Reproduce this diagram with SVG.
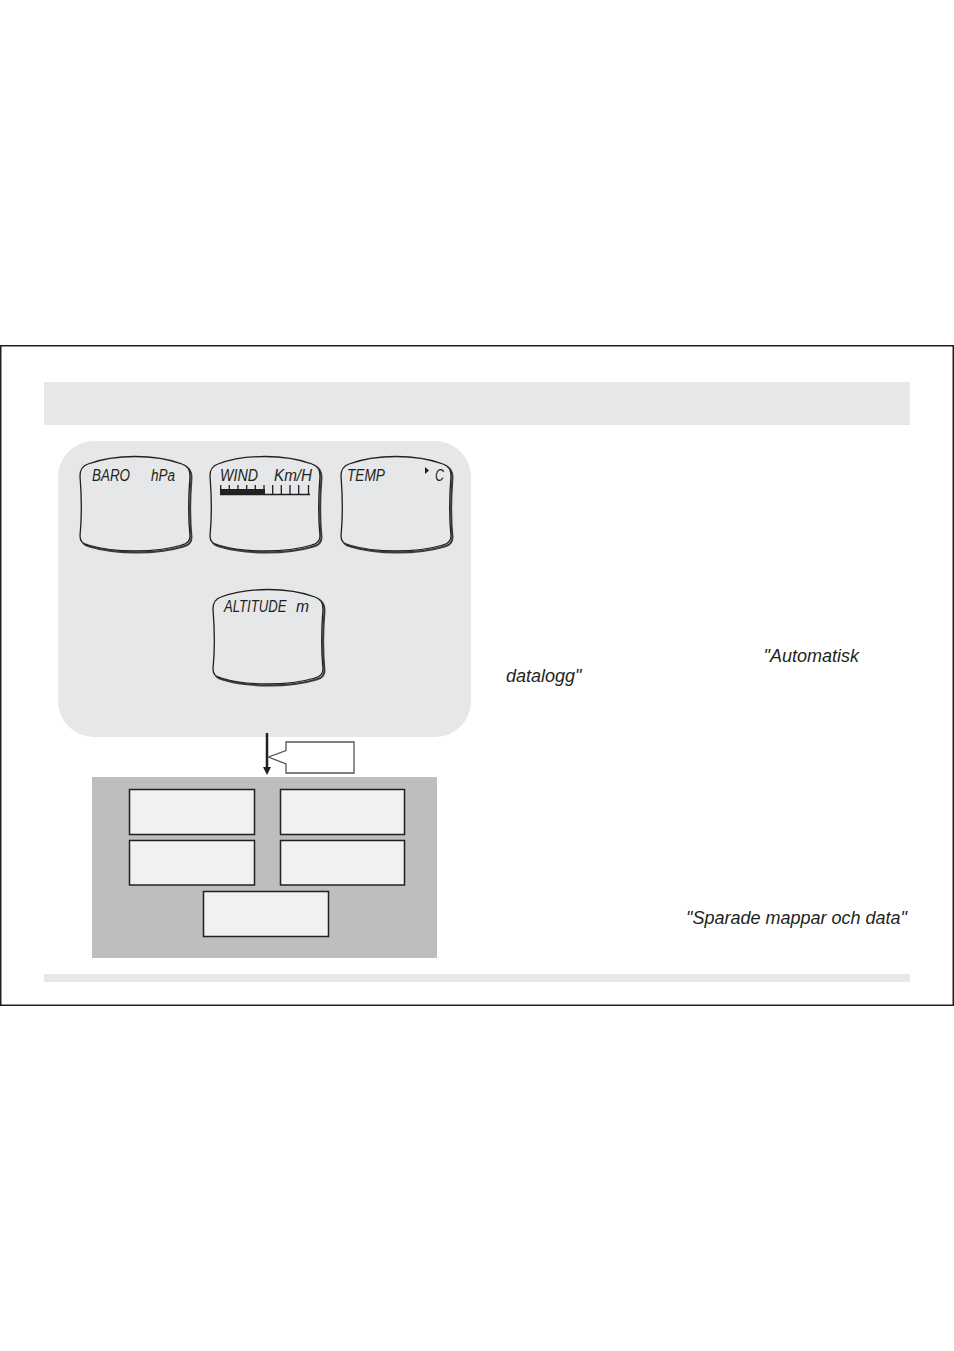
<svg xmlns="http://www.w3.org/2000/svg" width="954" height="1351" viewBox="0 0 954 1351">
<defs>
<style>
.lcd{fill:#e6e7e8;stroke:#231f20;stroke-width:1.3}
.lcdsh{fill:none;stroke:#3a3a3a;stroke-width:2}
.lt{font-family:"Liberation Sans",Arial,sans-serif;font-style:italic;font-size:16px;fill:#231f20}
.box{fill:#f1f1f1;stroke:#231f20;stroke-width:1.5}
.it{font-family:"Liberation Sans",Arial,sans-serif;font-style:italic;font-size:18px;fill:#231f20}
</style>
<path id="disp" d="M 8,8 C 35,-2 75,-2 102,8 C 108,10 110,14 110,20 C 108,45 108,60 110,80 C 110,86 106,88 102,89 C 75,97 35,97 8,89 C 3,88 0,86 0,80 C 2,60 2,45 0,20 C 0,14 2,10 8,8 Z"/>
<marker id="ah" markerWidth="8" markerHeight="8" refX="1" refY="4" orient="auto" markerUnits="userSpaceOnUse" viewBox="0 0 8 8">
<path d="M0,0 L8,4 L0,8 Z" fill="#231f20"/>
</marker>
</defs>
<rect x="0.75" y="345.75" width="952.5" height="659.5" fill="#fff" stroke="#231f20" stroke-width="1.5"/>
<rect x="44" y="382" width="866" height="43" fill="#e6e7e8"/>
<rect x="44" y="974" width="866" height="8" fill="#e6e7e8"/>
<g id="panel">
<rect x="58" y="441" width="413" height="296" rx="36" fill="#e6e7e8"/>
</g>
<g id="baro" transform="translate(80,456)">
<use href="#disp" class="lcdsh" transform="translate(1.5,1.5)"/>
<use href="#disp" class="lcd"/>
<text class="lt" x="12" y="25" textLength="38" lengthAdjust="spacingAndGlyphs">BARO</text>
<text class="lt" x="71" y="25" textLength="24" lengthAdjust="spacingAndGlyphs">hPa</text>
</g>
<g id="wind" transform="translate(210,456)">
<use href="#disp" class="lcdsh" transform="translate(1.5,1.5)"/>
<use href="#disp" class="lcd"/>
<text class="lt" x="10" y="25" textLength="38" lengthAdjust="spacingAndGlyphs">WIND</text>
<text class="lt" x="64" y="25" textLength="38" lengthAdjust="spacingAndGlyphs">Km/H</text>
<rect x="10" y="33" width="45" height="5" fill="#231f20"/>
<path d="M10,38.5 H100 M10.7,29 V38 M19.3,29 V38 M28,29 V38 M36.7,29 V38 M45.3,29 V38 M54,29 V38 M62.7,29 V38 M71.3,29 V38 M80,29 V38 M88.7,29 V38 M98.5,29 V38" stroke="#231f20" stroke-width="1.3" fill="none"/>
</g>
<g id="temp" transform="translate(341,456)">
<use href="#disp" class="lcdsh" transform="translate(1.5,1.5)"/>
<use href="#disp" class="lcd"/>
<text class="lt" x="6" y="25" textLength="38" lengthAdjust="spacingAndGlyphs">TEMP</text>
<path d="M84,11 L88,14.5 L84,18 Z" fill="#231f20"/>
<text class="lt" x="94" y="25" textLength="9" lengthAdjust="spacingAndGlyphs">C</text>
</g>
<g id="altitude" transform="translate(213,589)">
<use href="#disp" class="lcdsh" transform="translate(1.5,1.5)"/>
<use href="#disp" class="lcd"/>
<text class="lt" transform="translate(11,23) scale(0.82,1)">ALTITUDE</text>
<text class="lt" x="83" y="23" textLength="13" lengthAdjust="spacingAndGlyphs">m</text>
</g>
<g id="connectors">
<line x1="267" y1="733" x2="267" y2="768" stroke="#231f20" stroke-width="2.5" marker-end="url(#ah)"/>
</g>
<g id="callout">
<path d="M286,742 H354 V773 H286 V764 L268.5,757 L286,750.5 Z" fill="#fff" stroke="#555" stroke-width="1.3"/>
</g>
<g id="folders">
<rect x="92" y="777" width="345" height="181" fill="#bcbec0"/>
<rect class="box" x="129.5" y="789.5" width="125" height="45"/>
<rect class="box" x="280.5" y="789.5" width="124" height="45"/>
<rect class="box" x="129.5" y="840.5" width="125" height="44.5"/>
<rect class="box" x="280.5" y="840.5" width="124" height="44.5"/>
<rect class="box" x="203.5" y="891.5" width="125" height="45"/>
</g>
<text class="it" x="859" y="662" text-anchor="end">"Automatisk</text>
<text class="it" x="506" y="682">datalogg"</text>
<text class="it" x="907" y="924" text-anchor="end">"Sparade mappar och data"</text>
</svg>
